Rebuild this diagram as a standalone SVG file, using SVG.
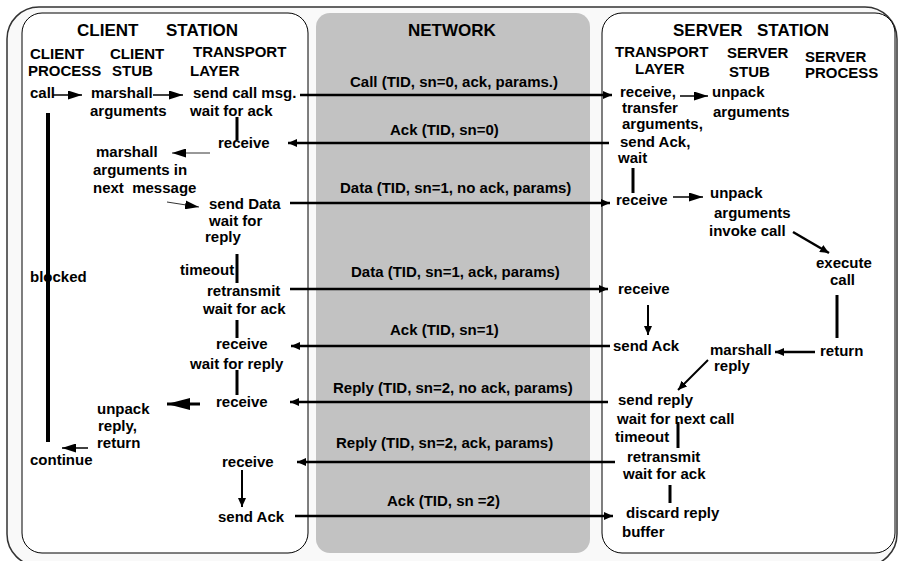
<svg xmlns="http://www.w3.org/2000/svg" width="899" height="561" viewBox="0 0 899 561">
<defs>
<style>
text{font-family:"Liberation Sans",Arial,sans-serif;font-weight:bold;font-size:15px;fill:#000}
.title{font-size:17px}
.net{stroke:#000;stroke-width:2.5;fill:none;marker-end:url(#sm)}
.thin{stroke:#000;stroke-width:1.5;fill:none;marker-end:url(#big)}
.mid{stroke:#000;stroke-width:2.5;fill:none;marker-end:url(#sm)}
.bar{stroke:#000;stroke-width:3;fill:none}
</style>
<marker id="sm" markerUnits="userSpaceOnUse" markerWidth="9" markerHeight="8" refX="9" refY="4" orient="auto"><path d="M0,0 L9,4 L0,8 z" fill="#000"/></marker>
<marker id="big" markerUnits="userSpaceOnUse" markerWidth="14" markerHeight="9" refX="14" refY="4.5" orient="auto"><path d="M0,0 L14,4.5 L0,9 z" fill="#000"/></marker>
<marker id="huge" markerUnits="userSpaceOnUse" markerWidth="23" markerHeight="12" refX="23" refY="6" orient="auto"><path d="M0,0 L23,6 L0,12 z" fill="#000"/></marker>
</defs>
<rect x="0" y="0" width="899" height="561" fill="#fff"/>
<rect x="7" y="7" width="890" height="559" rx="32" fill="#f9f9f9" stroke="#333" stroke-width="1.5"/>

<g id="client-station">
<rect x="22" y="13" width="286" height="540" rx="20" fill="#fff" stroke="#000" stroke-width="1"/>
<text class="title"><tspan x="77" y="36">CLIENT</tspan><tspan x="166" y="36">STATION</tspan></text>
</g>
<g id="network">
<rect x="316" y="13" width="274" height="540" rx="14" fill="#c2c2c2"/>
<text class="title" x="408" y="36">NETWORK</text>
</g>
<g id="server-station">
<rect x="602" y="13" width="293" height="540" rx="20" fill="#fff" stroke="#000" stroke-width="1"/>
<text class="title"><tspan x="673" y="36">SERVER</tspan><tspan x="757" y="36">STATION</tspan></text>
</g>

<g id="client-process">
<text x="30" y="59">CLIENT</text><text x="28" y="76">PROCESS</text>
<text x="30" y="98">call</text>
<text x="30" y="282">blocked</text>
<text x="30" y="465">continue</text>
</g>
<g id="client-stub">
<text x="110" y="59">CLIENT</text><text x="112" y="76">STUB</text>
<text x="91" y="98">marshall</text><text x="90" y="116">arguments</text>
<text x="96" y="157">marshall</text><text x="93" y="175">arguments in</text><text x="93" y="193" xml:space="preserve">next  message</text>
<text x="97" y="414">unpack</text><text x="98" y="431">reply,</text><text x="97" y="448">return</text>
</g>
<g id="client-transport">
<text x="193" y="57">TRANSPORT</text><text x="190" y="76">LAYER</text>
<text x="193" y="98">send call msg.</text><text x="190" y="116">wait for ack</text>
<text x="218" y="148">receive</text>
<text x="209" y="209">send Data</text><text x="209" y="226">wait for</text><text x="205" y="242">reply</text>
<text x="180" y="275">timeout</text>
<text x="207" y="296">retransmit</text><text x="203" y="314">wait for ack</text>
<text x="216" y="349">receive</text><text x="190" y="369">wait for reply</text>
<text x="216" y="407">receive</text>
<text x="222" y="467">receive</text>
<text x="218" y="522">send Ack</text>
</g>
<g id="messages">
<text x="350" y="87">Call (TID, sn=0, ack, params.)</text>
<text x="390" y="135">Ack (TID, sn=0)</text>
<text x="340" y="193">Data (TID, sn=1, no ack, params)</text>
<text x="351" y="277">Data (TID, sn=1, ack, params)</text>
<text x="390" y="335">Ack (TID, sn=1)</text>
<text x="333" y="393">Reply (TID, sn=2, no ack, params)</text>
<text x="336" y="448">Reply (TID, sn=2, ack, params)</text>
<text x="387" y="506">Ack (TID, sn =2)</text>
</g>
<g id="server-transport">
<text x="615" y="57">TRANSPORT</text><text x="635" y="74">LAYER</text>
<text x="620" y="97">receive,</text><text x="622" y="113">transfer</text><text x="622" y="129">arguments,</text><text x="620" y="147">send Ack,</text><text x="618" y="163">wait</text>
<text x="616" y="205">receive</text>
<text x="618" y="294">receive</text>
<text x="613" y="351">send Ack</text>
<text x="618" y="405">send reply</text><text x="617" y="424">wait for next call</text><text x="615" y="442">timeout</text>
<text x="627" y="462">retransmit</text><text x="623" y="479">wait for ack</text>
<text x="626" y="518">discard reply</text><text x="622" y="537">buffer</text>
</g>
<g id="server-stub">
<text x="727" y="58">SERVER</text><text x="729" y="77">STUB</text>
<text x="712" y="97">unpack</text><text x="713" y="117">arguments</text>
<text x="710" y="198">unpack</text><text x="714" y="218">arguments</text><text x="709" y="236">invoke call</text>
<text x="710" y="355">marshall</text><text x="714" y="371">reply</text>
</g>
<g id="server-process">
<text x="805" y="62">SERVER</text><text x="805" y="78">PROCESS</text>
<text x="816" y="268">execute</text><text x="830" y="285">call</text>
<text x="820" y="356">return</text>
</g>

<g id="connectors">
<path class="net" d="M300,95 L612,95"/>
<path class="net" d="M609,143 L288,143"/>
<path class="net" d="M290,203 L610,203"/>
<path class="net" d="M290,289 L608,289"/>
<path class="net" d="M610,346 L291,346"/>
<path class="net" d="M608,402 L290,402"/>
<path class="net" d="M615,462 L297,462"/>
<path class="net" d="M295,516 L613,516"/>

<path class="thin" d="M53,95 L82,95"/>
<path class="thin" d="M153,95 L183,95"/>
<path d="M210,153 L172,153" stroke="#333" stroke-width="1" fill="none" marker-end="url(#big)"/>
<path d="M167,202 L199,207" stroke="#333" stroke-width="1" fill="none" marker-end="url(#big)"/>
<path d="M200,404 L167,404" stroke="#000" stroke-width="3" fill="none" marker-end="url(#huge)"/>
<path class="thin" d="M88,448 L62,448"/>
<path d="M242,470 L242,507" stroke="#000" stroke-width="2" fill="none" marker-end="url(#sm)"/>

<path class="thin" d="M680,96 L708,96"/>
<path class="thin" d="M673,197 L703,197"/>
<path class="mid" d="M793,232 L829,253"/>
<path class="mid" d="M815,352 L775,352"/>
<path d="M708,360 L678,390" stroke="#000" stroke-width="2" fill="none" marker-end="url(#sm)"/>
<path d="M648,305 L648,335" stroke="#000" stroke-width="2" fill="none" marker-end="url(#sm)"/>

<path d="M48,113 L48,442" stroke="#000" stroke-width="4"/>
<path class="bar" d="M237,117 L237,140"/>
<path class="bar" d="M237,254 L237,283"/>
<path class="bar" d="M237,320 L237,338"/>
<path class="bar" d="M237,370 L237,395"/>
<path class="bar" d="M633,168 L633,193"/>
<path class="bar" d="M837,295 L837,338"/>
<path class="bar" d="M678,422 L678,448"/>
<path class="bar" d="M670,485 L670,503"/>
</g>
</svg>
